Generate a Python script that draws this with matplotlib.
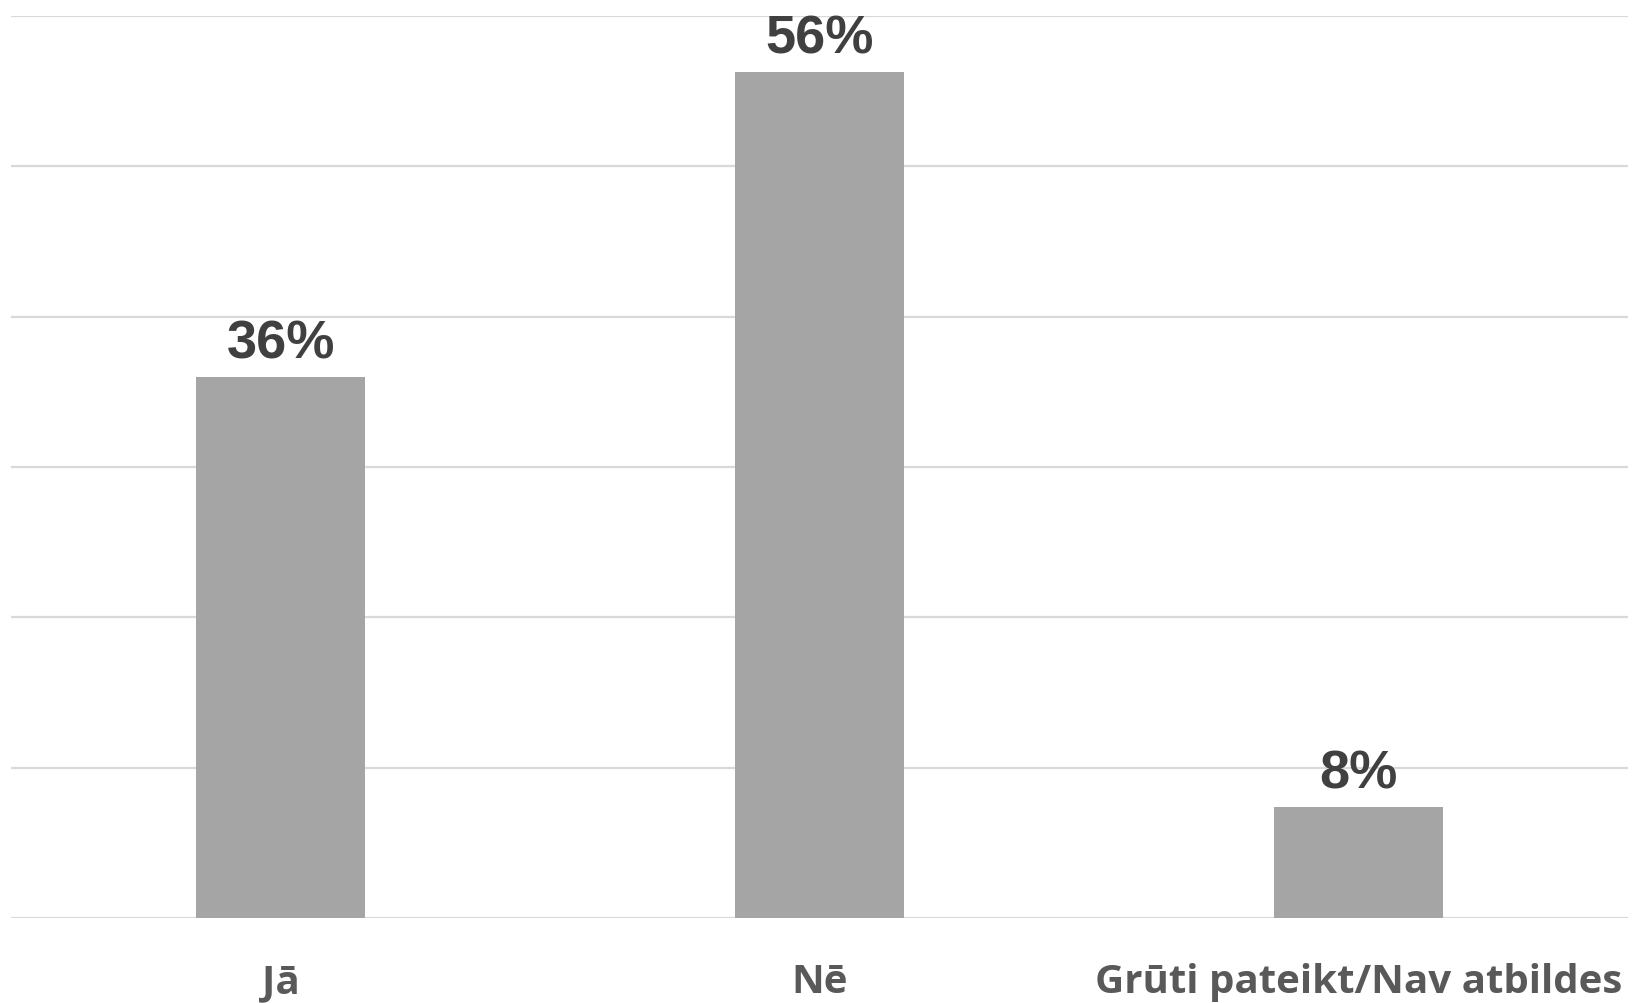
import numpy as np
import matplotlib
matplotlib.use('Agg')
import matplotlib.pyplot as plt

# survey answers
categories = ['Jā', 'Nē', 'Grūti pateikt/Nav atbildes']
values = [36, 56.3, 7.4]
labels = ['36%', '56%', '8%']

fig = plt.figure(figsize=(16.36, 10.04), dpi=100)
ax = fig.add_axes((11/1636, 85/1004, 1617/1636, 902/1004))

x = np.arange(len(categories))
ax.bar(x, values, width=0.315, color='#A5A5A5', zorder=2)

ax.set_xlim(-0.5, 2.5)
ax.set_ylim(0, 60)
ax.set_yticks(np.arange(0, 70, 10))
ax.yaxis.grid(True, color='#D9D9D9', linewidth=1.6, zorder=0)
ax.tick_params(axis='y', length=0, labelleft=False)
ax.tick_params(axis='x', length=0, pad=32)
ax.set_xticks(x)
ax.set_xticklabels(categories, fontfamily='Open Sans', fontweight='bold',
                   fontsize=29, color='#595959')
for s in ax.spines.values():
    s.set_visible(False)

for xi, v, lab in zip(x, values, labels):
    ax.annotate(lab, (xi, v), xytext=(0, 6), textcoords='offset points',
                ha='center', va='bottom', fontfamily='Liberation Sans',
                fontweight='bold', fontsize=39, color='#404040')

plt.savefig('out.png', dpi=100)
